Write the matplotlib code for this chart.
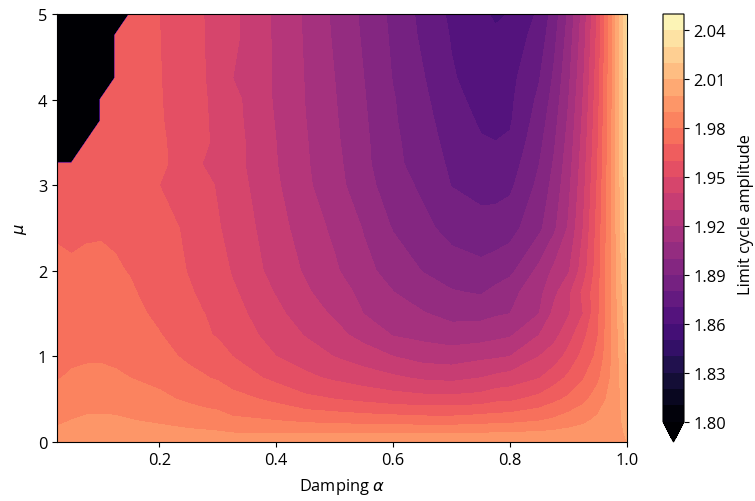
import numpy as np
import matplotlib
matplotlib.use("Agg")
import matplotlib.pyplot as plt

plt.rcParams["font.family"] = ["Open Sans", "DejaVu Sans"]
plt.rcParams["font.size"] = 11.8

alpha = [0.025, 0.05, 0.075, 0.1, 0.125, 0.15, 0.2, 0.25, 0.275, 0.3, 0.325, 0.4, 0.45, 0.5,
         0.55, 0.6, 0.65, 0.7, 0.75, 0.775, 0.8, 0.85, 0.875, 0.9, 0.925, 0.95, 0.975, 1.0]
mu = [0, 0.1, 0.25, 0.5, 0.75, 1, 1.25, 1.5, 1.75, 2, 2.5, 3, 3.25, 3.5, 3.75, 4, 4.25, 4.75, 5]

# one row per mu, 0 where no limit cycle was found (black corner)
amp_00 = [1.998]*26 + [1.999, 2.0]
amp_01 = [1.9927, 1.9949, 1.9953, 1.9955, 1.9953, 1.995, 1.9938, 1.9923, 1.992, 1.9913, 1.9903, 1.9902, 1.99, 1.99, 1.9897, 1.9897, 1.99, 1.99, 1.9902, 1.9907, 1.991, 1.9918, 1.9926, 1.9934, 1.9942, 1.9956, 1.998, 2.0005]
amp_02 = [1.988, 1.9902, 1.9913, 1.9915, 1.9913, 1.9904, 1.9885, 1.9862, 1.985, 1.9841, 1.9817, 1.98, 1.978, 1.977, 1.976, 1.9755, 1.9745, 1.9744, 1.976, 1.9765, 1.977, 1.9796, 1.9818, 1.9852, 1.9881, 1.992, 1.9965, 2.002]
amp_03 = [1.9832, 1.9844, 1.9864, 1.9866, 1.986, 1.9847, 1.982, 1.9785, 1.9768, 1.9756, 1.9735, 1.9677, 1.9625, 1.96, 1.9575, 1.955, 1.9537, 1.9533, 1.9546, 1.9575, 1.958, 1.9633, 1.9677, 1.9719, 1.9773, 1.9847, 1.994, 2.005]
amp_04 = [1.9795, 1.981, 1.9818, 1.982, 1.981, 1.98, 1.9776, 1.9732, 1.9707, 1.9691, 1.9655, 1.9575, 1.9522, 1.9483, 1.9448, 1.9417, 1.9385, 1.9373, 1.94, 1.9424, 1.9441, 1.9496, 1.9555, 1.9619, 1.9692, 1.978, 1.992, 2.008]
amp_05 = [1.978, 1.9786, 1.979, 1.979, 1.9787, 1.9776, 1.9736, 1.968, 1.9672, 1.9648, 1.96, 1.95, 1.9452, 1.9397, 1.9352, 1.93, 1.926, 1.925, 1.9277, 1.9286, 1.93, 1.94, 1.9449, 1.9533, 1.963, 1.9725, 1.991, 2.011]
amp_06 = [1.9765, 1.977, 1.9773, 1.9775, 1.977, 1.9755, 1.9705, 1.9647, 1.9617, 1.959, 1.9558, 1.946, 1.9394, 1.9332, 1.9265, 1.9195, 1.9172, 1.9148, 1.9155, 1.9173, 1.9188, 1.93, 1.9368, 1.946, 1.9573, 1.9695, 1.991, 2.0135]
amp_07 = [1.975, 1.9749, 1.9755, 1.9757, 1.975, 1.9728, 1.968, 1.9629, 1.9602, 1.9583, 1.9538, 1.9426, 1.9346, 1.9286, 1.9198, 1.9147, 1.9108, 1.9068, 1.907, 1.9088, 1.91, 1.92, 1.9326, 1.939, 1.95, 1.968, 1.9915, 2.016]
amp_08 = [1.9735, 1.973, 1.9738, 1.974, 1.9732, 1.9712, 1.9659, 1.9611, 1.9582, 1.955, 1.9516, 1.9392, 1.9315, 1.9243, 1.9175, 1.9102, 1.9047, 1.9008, 1.899, 1.9025, 1.9064, 1.9173, 1.9275, 1.9375, 1.9522, 1.967, 1.992, 2.0185]
amp_09 = [1.972, 1.9712, 1.972, 1.9722, 1.971, 1.9695, 1.966, 1.9595, 1.956, 1.9546, 1.9491, 1.9362, 1.9288, 1.9214, 1.9127, 1.9063, 1.8997, 1.895, 1.8929, 1.895, 1.8974, 1.9128, 1.922, 1.929, 1.945, 1.9655, 1.992, 2.021]
amp_10 = [1.9688, 1.9682, 1.9688, 1.969, 1.9685, 1.968, 1.9645, 1.9579, 1.9543, 1.9508, 1.9469, 1.9339, 1.9253, 1.9179, 1.9093, 1.8993, 1.8928, 1.8865, 1.8836, 1.8842, 1.8861, 1.8978, 1.908, 1.9212, 1.94, 1.964, 1.992, 2.025]
amp_11 = [1.9675, 1.9675, 1.968, 1.968, 1.968, 1.967, 1.96, 1.9558, 1.953, 1.9491, 1.9451, 1.9314, 1.9219, 1.9138, 1.9038, 1.8946, 1.8882, 1.8797, 1.8767, 1.8765, 1.878, 1.8926, 1.9033, 1.9174, 1.9368, 1.9616, 1.9916, 2.027]
amp_12 = [1.9665, 1.9665, 1.9682, 1.968, 1.9675, 1.9668, 1.9625, 1.9538, 1.9497, 1.9471, 1.9439, 1.9304, 1.9212, 1.9129, 1.9027, 1.8919, 1.8868, 1.878, 1.8738, 1.8733, 1.8747, 1.89, 1.901, 1.9155, 1.9352, 1.9604, 1.9914, 2.028]
amp_13 = [0, 0, 1.9675, 1.9675, 1.967, 1.9667, 1.9618, 1.9547, 1.9517, 1.9478, 1.9442, 1.93, 1.9208, 1.9119, 1.9021, 1.8918, 1.8853, 1.8763, 1.8708, 1.8701, 1.8713, 1.8874, 1.8986, 1.9136, 1.9336, 1.9592, 1.9912, 2.0285]
amp_14 = [0, 0, 0, 1.967, 1.967, 1.9666, 1.961, 1.9545, 1.9514, 1.9475, 1.9435, 1.9293, 1.9202, 1.9112, 1.9014, 1.8911, 1.8838, 1.8745, 1.8689, 1.8685, 1.869, 1.8848, 1.8963, 1.9116, 1.932, 1.958, 1.991, 2.029]
amp_15 = [0, 0, 0, 1.967, 1.9668, 1.9665, 1.9607, 1.9543, 1.9511, 1.9472, 1.9431, 1.9286, 1.9197, 1.9106, 1.9007, 1.8907, 1.8824, 1.8728, 1.867, 1.8672, 1.868, 1.8822, 1.8939, 1.9097, 1.9304, 1.9568, 1.9908, 2.0295]
amp_16 = [0, 0, 0, 0, 1.9668, 1.9665, 1.9605, 1.954, 1.9508, 1.9459, 1.9401, 1.9288, 1.9195, 1.91, 1.9, 1.8895, 1.8809, 1.871, 1.8655, 1.866, 1.867, 1.8795, 1.8915, 1.9078, 1.9288, 1.9556, 1.9906, 2.03]
amp_17 = [0, 0, 0, 0, 1.9668, 1.9664, 1.9602, 1.9537, 1.9503, 1.9465, 1.9424, 1.9283, 1.9189, 1.9086, 1.8986, 1.8882, 1.8782, 1.8692, 1.863, 1.8622, 1.8635, 1.8743, 1.8868, 1.904, 1.9256, 1.9532, 1.9902, 2.0305]
amp_18 = [0, 0, 0, 0, 0, 1.9664, 1.96, 1.9536, 1.9502, 1.9464, 1.9422, 1.9283, 1.9187, 1.908, 1.8979, 1.8875, 1.8773, 1.868, 1.8625, 1.858, 1.8605, 1.8717, 1.8845, 1.902, 1.924, 1.952, 1.99, 2.031]

amplitude = np.array([amp_00, amp_01, amp_02, amp_03, amp_04, amp_05, amp_06, amp_07, amp_08, amp_09,
                      amp_10, amp_11, amp_12, amp_13, amp_14, amp_15, amp_16, amp_17, amp_18])

levels = np.round(np.arange(1.80, 2.051, 0.01), 2)
cbar_ticks = [1.80, 1.83, 1.86, 1.89, 1.92, 1.95, 1.98, 2.01, 2.04]

W, H = 755, 502
fig = plt.figure(figsize=(W/100, H/100), dpi=100)
ax = fig.add_axes([57/W, 1-443/H, 570/W, 428/H])
cax = fig.add_axes([663/W, 1-443/H, 21/W, 428/H])

cs = ax.contourf(alpha, mu, amplitude, levels=levels, cmap="magma", extend="min")
ax.set_xlabel(r"Damping $\alpha$", labelpad=6)
ax.set_ylabel(r"$\mu$", labelpad=6)

cbar = fig.colorbar(cs, cax=cax, ticks=cbar_ticks, format="%.2f")
cbar.set_label("Limit cycle amplitude", labelpad=8, y=0.51)
cbar.minorticks_off()

fig.savefig("out.png", dpi=100)
plt.close(fig)
